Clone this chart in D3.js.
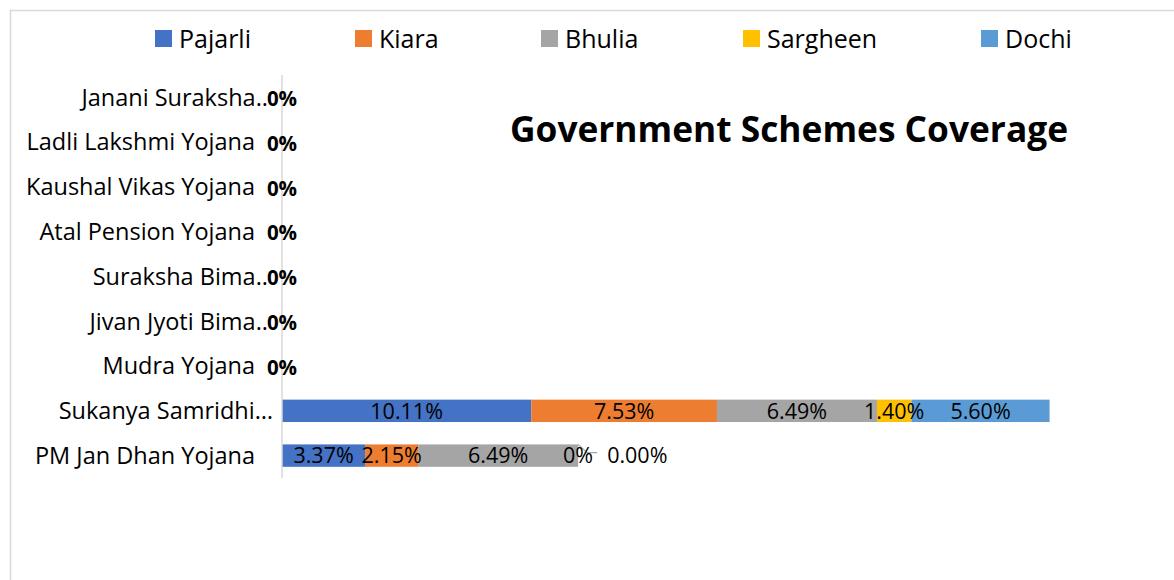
<!DOCTYPE html>
<html lang="en">
<head>
    <meta charset="UTF-8">
    <title>Government Schemes Coverage</title>
    <style>
        body {
            margin: 0;
            background: #fff;
            font-family: "Open Sans", Arial, sans-serif;
        }
        .cat-label { font-size: 23.5px; fill: #000; }
        .legend-text { font-size: 25px; fill: #000; }
        .data-label { font-size: 21.5px; fill: #000; }
        .zero-label { font-size: 20.5px; font-weight: bold; fill: #000; }
        .title { font-size: 35px; font-weight: bold; fill: #000; }
    </style>
</head>
<body>
    <svg id="chart" width="1174" height="580"></svg>

    <script src="https://d3js.org/d3.v7.min.js"></script>
    <script>
        // categories, bottom to top as in the source sheet
        const categories = [
            "PM Jan Dhan Yojana",
            "Sukanya Samridhi\u2026",
            "Mudra Yojana",
            "Jivan Jyoti Bima..",
            "Suraksha Bima..",
            "Atal Pension Yojana",
            "Kaushal Vikas Yojana",
            "Ladli Lakshmi Yojana",
            "Janani Suraksha.."
        ];
        const seriesNames = ["Pajarli", "Kiara", "Bhulia", "Sargheen", "Dochi"];
        const seriesColors = ["#4472C4", "#ED7D31", "#A5A5A5", "#FFC000", "#5B9BD5"];

        const pajarli  = [3.37, 10.11, 0, 0, 0, 0, 0, 0, 0];
        const kiara    = [2.15, 7.53, 0, 0, 0, 0, 0, 0, 0];
        const bhulia   = [6.49, 6.49, 0, 0, 0, 0, 0, 0, 0];
        const sargheen = [0, 1.40, 0, 0, 0, 0, 0, 0, 0];
        const dochi    = [0, 5.60, 0, 0, 0, 0, 0, 0, 0];
        const seriesValues = [pajarli, kiara, bhulia, sargheen, dochi];

        const xMax = 35;

        const svg = d3.select("#chart");

        // chart frame (top and left edges are what shows in the picture)
        svg.append("rect")
            .attr("x", 10.5).attr("y", 10.5)
            .attr("width", 1180).attr("height", 600)
            .attr("fill", "none")
            .attr("stroke", "#d9d9d9")
            .attr("stroke-width", 1.5);

        const plot = { left: 282, right: 1145, top: 75, bottom: 478 };

        const x = d3.scaleLinear().domain([0, xMax]).range([plot.left, plot.right]);
        const y = d3.scaleBand()
            .domain(categories.slice().reverse())
            .range([plot.top, plot.bottom])
            .paddingInner(0.5)
            .paddingOuter(0.25);

        // stacked data
        const rows = categories.map((c, i) => {
            const r = { cat: c };
            seriesNames.forEach((s, k) => r[s] = seriesValues[k][i]);
            return r;
        });
        const stacked = d3.stack().keys(seriesNames)(rows);

        const layers = svg.selectAll("g.layer")
            .data(stacked)
            .join("g")
            .attr("class", "layer")
            .attr("fill", (d, i) => seriesColors[i]);

        layers.selectAll("rect")
            .data(d => d)
            .join("rect")
            .attr("x", d => x(d[0]))
            .attr("y", d => y(d.data.cat))
            .attr("width", d => x(d[1]) - x(d[0]))
            .attr("height", y.bandwidth());

        // vertical axis line
        svg.append("line")
            .attr("x1", plot.left).attr("x2", plot.left)
            .attr("y1", plot.top).attr("y2", plot.bottom)
            .attr("stroke", "#d9d9d9")
            .attr("stroke-width", 1.5);

        // category labels (truncated ones spill a little to the right)
        svg.selectAll("text.cat-label")
            .data(categories)
            .join("text")
            .attr("class", "cat-label")
            .attr("x", d => /\.\.$/.test(d) ? 268 : (/\u2026$/.test(d) ? 273 : 255))
            .attr("y", d => y(d) + y.bandwidth() / 2)
            .attr("dy", "0.35em")
            .attr("text-anchor", "end")
            .text(d => d);

        const fmt = v => v.toFixed(2) + "%";

        // data labels for the two filled rows
        stacked.forEach((layer, k) => {
            layer.forEach((d, i) => {
                const v = seriesValues[k][i];
                if (v <= 0) return;
                svg.append("text")
                    .attr("class", "data-label")
                    .attr("x", (x(d[0]) + x(d[1])) / 2)
                    .attr("y", y(d.data.cat) + y.bandwidth() / 2)
                    .attr("dy", "0.36em")
                    .attr("text-anchor", "middle")
                    .text(fmt(v));
            });
        });

        // zero rows: overlapping 0% labels
        categories.forEach((c, i) => {
            const total = d3.sum(seriesValues, s => s[i]);
            if (total > 0) return;
            svg.append("text")
                .attr("class", "zero-label")
                .attr("x", x(0))
                .attr("y", y(c) + y.bandwidth() / 2)
                .attr("dy", "0.42em")
                .attr("text-anchor", "middle")
                .text("0%");
        });

        // PM Jan Dhan: zero segments at the end of the bar
        const pmCat = categories[0];
        const pmEnd = x(pajarli[0] + kiara[0] + bhulia[0]);
        const pmMid = y(pmCat) + y.bandwidth() / 2;
        svg.append("path")
            .attr("d", d3.line()([[pmEnd, y(pmCat)], [pmEnd + 9, pmMid - 3], [pmEnd + 19, pmMid - 3]]))
            .attr("fill", "none")
            .attr("stroke", "#a5a5a5")
            .attr("stroke-width", 1.2);
        svg.append("text")
            .attr("class", "data-label")
            .attr("x", pmEnd)
            .attr("y", pmMid)
            .attr("dy", "0.36em")
            .attr("text-anchor", "middle")
            .text("0%");
        svg.append("text")
            .attr("class", "data-label")
            .attr("x", pmEnd + 29)
            .attr("y", pmMid)
            .attr("dy", "0.36em")
            .attr("text-anchor", "start")
            .text(fmt(dochi[0]));

        // legend
        const legendX = [155, 355, 541, 743, 981];
        const legend = svg.selectAll("g.legend")
            .data(seriesNames)
            .join("g")
            .attr("class", "legend")
            .attr("transform", (d, i) => `translate(${legendX[i]},30)`);
        legend.append("rect")
            .attr("width", 17).attr("height", 17)
            .attr("fill", (d, i) => seriesColors[i]);
        legend.append("text")
            .attr("class", "legend-text")
            .attr("x", 24)
            .attr("y", 9)
            .attr("dy", "0.36em")
            .text(d => d);

        // title
        svg.append("text")
            .attr("class", "title")
            .attr("x", 510)
            .attr("y", 142)
            .attr("textLength", 558)
            .attr("lengthAdjust", "spacingAndGlyphs")
            .text("Government Schemes Coverage");
    </script>
</body>
</html>
